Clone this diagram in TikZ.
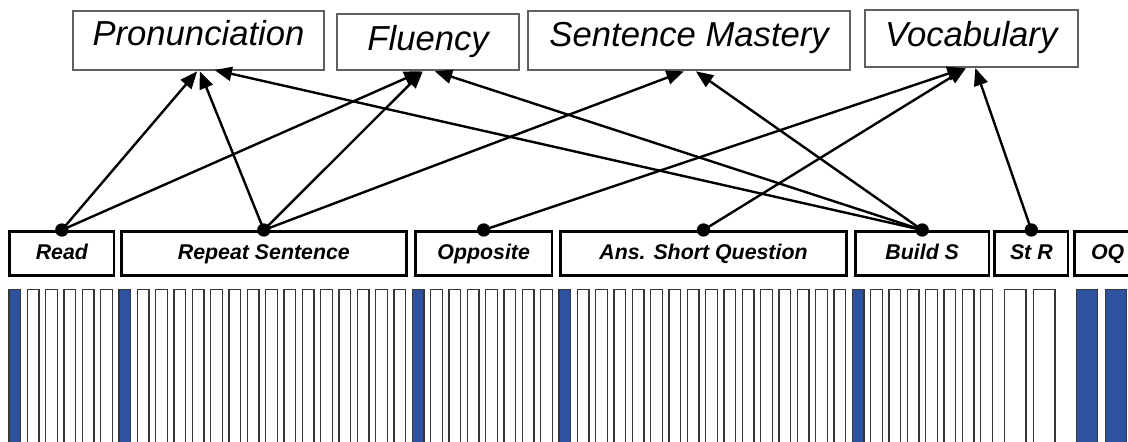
\documentclass[tikz,border=0pt]{standalone}
\usepackage{fontspec}
\setmainfont{Liberation Sans}
\usetikzlibrary{arrows.meta}
\definecolor{barblue}{RGB}{47,82,160}
\definecolor{boxgray}{RGB}{95,95,95}
\definecolor{bargray}{RGB}{55,55,55}
\begin{document}
\begin{tikzpicture}[x=0.75pt,y=-0.75pt,
  topbox/.style={draw=boxgray,line width=1.5pt,inner sep=0pt,anchor=north west,
    font=\fontsize{26}{30}\selectfont\itshape},
  labbox/.style={draw=black,line width=2pt,inner sep=0pt,anchor=north west,
    minimum width=#1*0.75pt,text height=20.8pt,text depth=12.2pt,
    font=\fontsize{16}{19}\selectfont\bfseries\itshape},
  bar/.style={draw=bargray,line width=1pt,fill=white},
  bluebar/.style={draw=bargray,line width=1pt,fill=barblue},
  edge/.style={line width=1.8pt,-{Triangle[length=13pt,width=10.5pt]}},
  dot/.style={fill=black}
]
\useasboundingbox (0,0) rectangle (1128,442);
\clip (0,0) rectangle (1128,442);

% bars
\foreach \i in {0,...,53} \draw[bar] ({9+\i*18.333},289.3) rectangle ++(11.7,170);
\foreach \i in {0,6,22,30,46} \draw[bluebar] ({9+\i*18.333},289.3) rectangle ++(11.7,170);
\draw[bar] (1004.3,289.3) rectangle (1026,460);
\draw[bar] (1033.3,289.3) rectangle (1055,460);
\draw[bluebar] (1076.7,289.3) rectangle (1097.7,460);
\draw[bluebar] (1105.3,289.3) rectangle (1126.7,460);

% top boxes
\node[topbox,minimum width=251.6*0.75pt,text height=26pt,text depth=18.5pt] (pron) at (71.7,10) {Pronunciation};
\node[topbox,minimum width=182.3*0.75pt,text height=27.5pt,text depth=14.5pt] (flu) at (336,13.3) {Fluency};
\node[topbox,minimum width=321.7*0.75pt,text height=27pt,text depth=17.5pt] (sm) at (527.3,10) {Sentence Mastery};
\node[topbox,minimum width=213.4*0.75pt,text height=27pt,text depth=15.6pt] (voc) at (863.6,9.3) {Vocabulary};

% label boxes
\node[labbox=104.4] (read) at (8.3,230) {Read};
\node[labbox=285] (rep) at (120,230) {Repeat Sentence};
\node[labbox=136.7] (opp) at (414,230) {Opposite};
\node[labbox=285.7] (asq) at (559.3,230) {Ans. Short Question};
\node[labbox=133.7] (bs) at (854,230) {Build S};
\node[labbox=73.4] (str) at (993.3,230) {St R};
\node[labbox=66] (oq) at (1073.3,230) {OQ};

% edges
\draw[edge] (read.north) -- ([xshift=-1pt]pron.south);
\draw[edge] (rep.north) -- ([xshift=1pt]pron.south);
\draw[edge] (bs.north) -- ([xshift=12pt,yshift=1pt]pron.south);
\draw[edge] (read.north) -- ([xshift=-5pt]flu.south);
\draw[edge] (rep.north) -- ([xshift=-4pt]flu.south);
\draw[edge] (bs.north) -- ([xshift=5pt]flu.south);
\draw[edge] (rep.north) -- ([xshift=-4pt]sm.south);
\draw[edge] (bs.north) -- ([xshift=5pt]sm.south);
\draw[edge] (opp.north) -- ([xshift=-5pt]voc.south);
\draw[edge] (asq.north) -- ([xshift=-4pt]voc.south);
\draw[edge] (str.north) -- ([xshift=3pt]voc.south);

% dots
\foreach \n in {read,rep,opp,asq,bs,str}
  \fill[dot] (\n.north) circle[radius=5pt];
\end{tikzpicture}
\end{document}
